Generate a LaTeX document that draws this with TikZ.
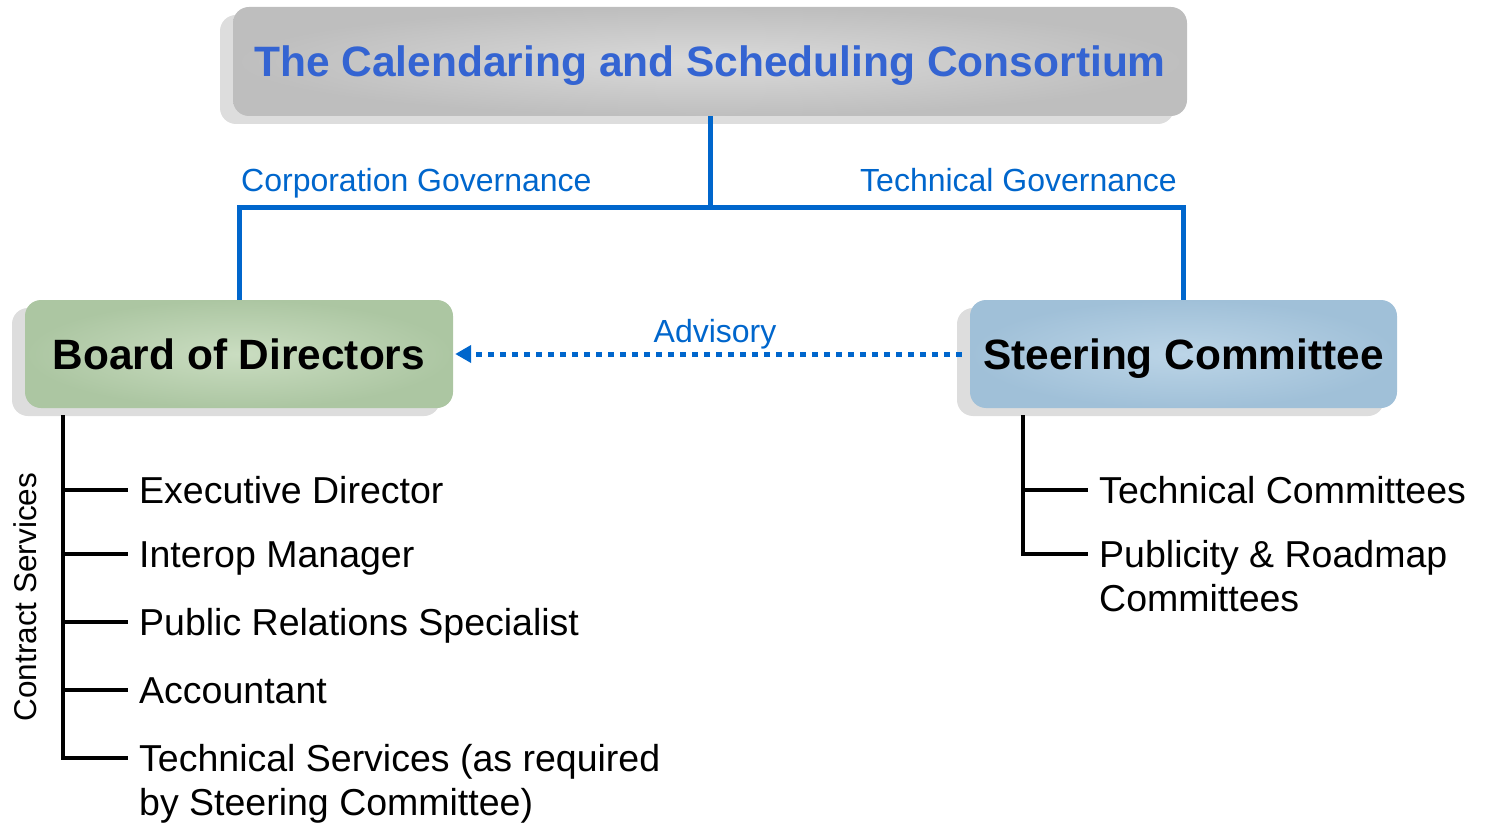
\documentclass[tikz,border=0pt]{standalone}
\usepackage{fontspec}
\setmainfont{Liberation Sans}
\usetikzlibrary{shadows,arrows.meta}
\definecolor{titleblue}{RGB}{52,100,210}
\definecolor{govblue}{RGB}{0,102,204}
\definecolor{shadowgray}{RGB}{221,221,221}
\definecolor{grayout}{RGB}{190,190,190}
\definecolor{grayin}{RGB}{218,218,218}
\definecolor{greenout}{RGB}{172,198,162}
\definecolor{greenin}{RGB}{202,221,193}
\definecolor{blueout}{RGB}{160,192,216}
\definecolor{bluein}{RGB}{188,213,231}
\begin{document}
\begin{tikzpicture}[x=1pt,y=-1pt,
  box/.style={rectangle, rounded corners=16pt, inner sep=0pt, text height=30pt, text depth=0pt,
    font=\bfseries\fontsize{42.4}{50}\selectfont,
    drop shadow={shadow xshift=-13pt, shadow yshift=-8pt, fill=shadowgray, opacity=1}},
  gov/.style={draw=govblue, line width=5pt},
  govlabel/.style={text=govblue, font=\fontsize{32}{38}\selectfont, inner sep=0pt},
  tree/.style={draw=black, line width=4pt},
  item/.style={anchor=west, inner xsep=11pt, inner ysep=0pt, text height=34pt, text depth=8pt,
    font=\fontsize{37.5}{44.5}\selectfont},
  adv/.style={draw=govblue, line width=5pt, dash pattern=on 6pt off 6pt,
    -{Triangle[length=16pt,width=17pt]}}
]
\useasboundingbox (0,0) rectangle (1487,826);

% main boxes
\node[box, shading=radial, inner color=grayin, outer color=grayout,
      minimum width=954pt, minimum height=109pt, text=titleblue,
      font=\bfseries\fontsize{42.5}{50}\selectfont] (csc) at (710,61.5)
      {The Calendaring and Scheduling Consortium};
\node[box, shading=radial, inner color=greenin, outer color=greenout,
      minimum width=428pt, minimum height=108pt] (bod) at (239,354) {Board of Directors};
\node[box, shading=radial, inner color=bluein, outer color=blueout,
      minimum width=427pt, minimum height=108pt] (sc) at (1183.5,354) {Steering Committee};

% governance connectors
\coordinate (j) at (710,208);
\draw[gov] (csc.south) -- (j);
\draw[gov] (j) -| (bod.north);
\draw[gov] (j) -| (sc.north);
\node[govlabel, anchor=base west] (cg) at (241,192) {Corporation Governance};
\node[govlabel, anchor=base east] (tg) at (1177,192) {Technical Governance};

% advisory
\draw[adv, shorten <=8pt, shorten >=2pt] (sc.west) -- (bod.east);
\node[govlabel, anchor=base] (advl) at (715,342) {Advisory};

% left tree
\coordinate (lt) at (63,415);
\node[item] (e1) at (128,490) {Executive Director};
\node[item] (e2) at (128,554) {Interop Manager};
\node[item] (e3) at (128,622) {Public Relations Specialist};
\node[item] (e4) at (128,690) {Accountant};
\node[item] (e5) at (128,758) {\begin{tabular}[t]{@{}l@{}}Technical Services (as required\\by Steering Committee)\end{tabular}};
\draw[tree] (lt) |- (e5.west);
\foreach \n in {e1,e2,e3,e4} {\draw[tree] (lt |- \n.west) -- (\n.west);}
\node[rotate=90, font=\fontsize{31.5}{38}\selectfont, inner sep=0pt] (cs) at (25,597) {Contract Services};

% right tree
\coordinate (rt) at (1023,415);
\node[item] (r1) at (1088,490) {Technical Committees};
\node[item] (r2) at (1088,554) {\begin{tabular}[t]{@{}l@{}}Publicity \& Roadmap\\Committees\end{tabular}};
\draw[tree] (rt) |- (r2.west);
\draw[tree] (rt |- r1.west) -- (r1.west);
\end{tikzpicture}
\end{document}
